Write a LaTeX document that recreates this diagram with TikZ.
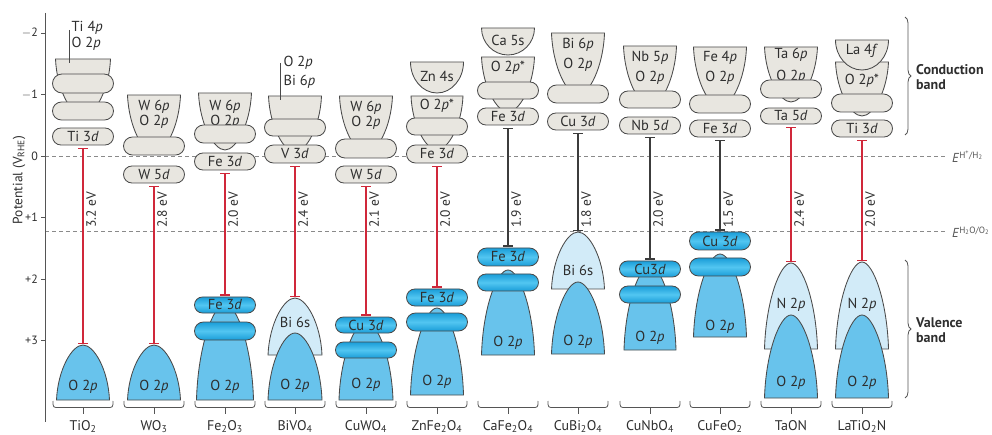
\documentclass[tikz,border=0pt]{standalone}
\usepackage{fontspec}
\setmainfont{PT Sans}
\usetikzlibrary{shapes.misc,arrows.meta,decorations.pathreplacing}
\definecolor{cbfill}{HTML}{E8E6E0}
\definecolor{edge}{HTML}{4A4A4A}
\definecolor{otwo}{HTML}{68C3EC}
\definecolor{lightb}{HTML}{D2EBF8}
\definecolor{deepb}{HTML}{1A9DD8}
\definecolor{midb}{HTML}{52C6F1}
\definecolor{gapred}{HTML}{D0283A}
\definecolor{gapdark}{HTML}{3C3C3C}
\definecolor{txt}{HTML}{2E2E2E}
\definecolor{guide}{HTML}{8A8A8A}
\definecolor{soft}{HTML}{555555}
\newcommand\bandfont{\fontsize{14.5}{16}\selectfont}
\newcommand\bandbell[5]{%
 \pgfmathsetmacro\bbA{#2+0.55*(#3-#2)}%
 \pgfmathsetmacro\bbL{#1-#4}\pgfmathsetmacro\bbR{#1+#4}%
 \pgfmathsetmacro\bbLa{#1-0.95*#4}\pgfmathsetmacro\bbRa{#1+0.95*#4}%
 \pgfmathsetmacro\bbLc{#1-0.42*#4}\pgfmathsetmacro\bbRc{#1+0.42*#4}%
 \path[#5] (\bbL,#2) .. controls (\bbLa,\bbA) and (\bbLc,#3) .. (#1,#3) .. controls (\bbRc,#3) and (\bbRa,\bbA) .. (\bbR,#2) -- cycle;}
\newcommand\bandbowl[5]{%
 \pgfmathsetmacro\bbA{#2+0.55*(#3-#2)}%
 \pgfmathsetmacro\bbL{#1-#4}\pgfmathsetmacro\bbR{#1+#4}%
 \pgfmathsetmacro\bbLc{#1-0.55*#4}\pgfmathsetmacro\bbRc{#1+0.55*#4}%
 \path[#5] (\bbL,#2) -- (\bbR,#2) .. controls (\bbR,\bbA) and (\bbRc,#3) .. (#1,#3) .. controls (\bbLc,#3) and (\bbL,\bbA) .. cycle;}
\newcommand\cbpill[5]{\node[cbp, minimum height={(#3)-(#2)}] (#4) at (#1,{((#2)+(#3))/2}) {#5};}
\newcommand\vbpill[5]{\node[vbp, minimum height={(#3)-(#2)}] (#4) at (#1,{((#2)+(#3))/2}) {#5};}
\newcommand\gaplabel[3]{\node[gaplab] (#3) at ({#1+3},228) {#2};}
\newcommand\colbrace[4]{%
 \draw[brc] ({#1-30},401) .. controls ({#1-30},407.5) .. ({#1-24},407.5) -- ({#1+24},407.5) .. controls ({#1+30},407.5) .. ({#1+30},401);
 \coordinate (#2t) at (#1,407.5); \coordinate (#2b) at (#1,414);
 \draw[brc] (#2t) -- (#2b);
 \node[matlab] (#3) at (#1,430) {#4};}
\tikzset{
 cbshape/.style={fill=cbfill, draw=edge, line width=0.85pt},
 vbshape/.style={fill=otwo, draw=edge, line width=0.85pt},
 lbshape/.style={fill=lightb, draw=edge, line width=0.85pt},
 cbp/.style={rounded rectangle, fill=cbfill, draw=edge, line width=0.85pt, minimum width=61pt, inner sep=0pt, font=\bandfont, text=txt},
 vbp/.style={rounded rectangle, draw=edge, line width=0.85pt, top color=deepb, bottom color=deepb, middle color=midb, minimum width=61pt, inner sep=0pt, font=\bandfont, text=txt},
 lab/.style={font=\bandfont, text=txt, inner sep=0pt},
 leader/.style={draw=edge, line width=0.8pt},
 gapr/.style={draw=gapred, line width=1.4pt, arrows={Bar[width=10pt]-Bar[width=10pt]}, shorten <=2.5pt, shorten >=1pt},
 gapd/.style={draw=gapdark, line width=1.4pt, arrows={Bar[width=10pt]-Bar[width=10pt]}, shorten <=2.5pt, shorten >=1pt},
 gaplab/.style={rotate=90, anchor=north west, inner sep=0pt, font=\fontsize{13.5}{15}\selectfont, text=txt},
 brc/.style={draw=soft, line width=0.8pt},
 matlab/.style={anchor=base, inner sep=0pt, font=\fontsize{14}{16}\selectfont, text=txt},
 guideline/.style={draw=guide, line width=0.9pt, dash pattern=on 4pt off 3pt},
 ticklab/.style={anchor=east, inner sep=0pt, font=\fontsize{12}{14}\selectfont, text=txt},
 elab/.style={anchor=west, inner sep=0pt, font=\fontsize{13}{15}\selectfont, text=soft},
 bandtitle/.style={anchor=west, align=left, inner sep=0pt, font=\fontsize{14}{14.5}\selectfont\bfseries, text=txt}
}
\begin{document}
\begin{tikzpicture}[x=1pt,y=-1pt]
\useasboundingbox (0,0) rectangle (992,435);
% reference potentials
\coordinate (hl) at (45,156); \coordinate (hr) at (946,156);
\coordinate (ol) at (45,231.6); \coordinate (or) at (946,231.6);
\draw[guideline] (hl) -- (hr);
\draw[guideline] (ol) -- (or);
\node[elab] (eh) at (952,157) {\textit{E}\textsuperscript{H\textsuperscript{+}/H\textsubscript{2}}};
\node[elab] (eo) at (952,232.5) {\textit{E}\textsuperscript{H\textsubscript{2}O/O\textsubscript{2}}};
% axis
\coordinate (at) at (45,13); \coordinate (ab) at (45,422);
\draw[draw=soft, line width=0.9pt] (at) -- (ab);
\foreach \v/\t [count=\i] in {-2/$-$2,-1/$-$1,0/0,1/+1,2/+2,3/+3}{
  \pgfmathsetmacro\yy{156+61.5*\v}
  \coordinate (tk\i a) at (41,\yy); \coordinate (tk\i b) at (45,\yy);
  \draw[draw=soft, line width=0.8pt] (tk\i a) -- (tk\i b);
  \node[ticklab] (tl\i) at (38,\yy) {\t};
}
\node[rotate=90, inner sep=0pt, font=\fontsize{13.5}{15}\selectfont, text=txt] (ylab) at (19,180) {Potential (V\textsubscript{RHE})};

% ---------- TiO2
\bandbell{83}{59}{116}{27.5}{cbshape}
\cbpill{83}{74}{93}{tio2a}{}
\cbpill{83}{102}{120}{tio2b}{}
\cbpill{83}{128}{145}{tio2cb}{Ti 3\textit{d}}
\coordinate (tio2la) at (69,30); \coordinate (tio2lb) at (69,63);
\draw[leader] (tio2la) -- (tio2lb);
\node[lab, anchor=west] (tio2t1) at (71.5,28) {Ti 4\textit{p}};
\node[lab, anchor=west] (tio2t2) at (71.5,43.5) {O 2\textit{p}};
\bandbell{83}{400}{345}{26.5}{vbshape}
\coordinate (tio2vb) at (83,345);
\node[lab] (tio2o) at (83,387) {O 2\textit{p}};
\draw[gapr] (tio2cb.south) -- (tio2vb);
\gaplabel{83}{3.2 eV}{tio2g}
\colbrace{83}{tio2br}{tio2n}{TiO\textsubscript{2}}

% ---------- WO3
\bandbell{154}{95}{153}{26.5}{cbshape}
\node[lab] (wo3t1) at (154,107) {W 6\textit{p}};
\node[lab] (wo3t2) at (154,122) {O 2\textit{p}};
\cbpill{154}{137}{155}{wo3a}{}
\cbpill{154}{166}{183}{wo3cb}{W 5\textit{d}}
\bandbell{154}{400}{345}{26.5}{vbshape}
\coordinate (wo3vb) at (154,345);
\node[lab] (wo3o) at (154,387) {O 2\textit{p}};
\draw[gapr] (wo3cb.south) -- (wo3vb);
\gaplabel{154}{2.8 eV}{wo3g}
\colbrace{154}{wo3br}{wo3n}{WO\textsubscript{3}}

% ---------- Fe2O3
\bandbell{225}{93}{150}{26.5}{cbshape}
\node[lab] (fe2o3t1) at (225,107) {W 6\textit{p}};
\node[lab] (fe2o3t2) at (225,122) {O 2\textit{p}};
\cbpill{225}{125}{143}{fe2o3a}{}
\cbpill{225}{153}{170}{fe2o3cb}{Fe 3\textit{d}}
\bandbell{225}{400}{304}{28.5}{vbshape}
\vbpill{225}{322}{340}{fe2o3b}{}
\vbpill{225}{297}{313}{fe2o3vb}{Fe 3\textit{d}}
\node[lab] (fe2o3o) at (225,387) {O 2\textit{p}};
\draw[gapr] (fe2o3cb.south) -- (fe2o3vb.north);
\gaplabel{225}{2.0 eV}{fe2o3g}
\colbrace{225}{fe2o3br}{fe2o3n}{Fe\textsubscript{2}O\textsubscript{3}}

% ---------- BiVO4
\bandbell{295}{96}{152}{26.5}{cbshape}
\cbpill{295}{119}{136}{bivo4a}{}
\cbpill{295}{145}{163}{bivo4cb}{V 3\textit{d}}
\coordinate (bivo4la) at (280,63); \coordinate (bivo4lb) at (280,100);
\draw[leader] (bivo4la) -- (bivo4lb);
\node[lab, anchor=west] (bivo4t1) at (283.5,63) {O 2\textit{p}};
\node[lab, anchor=west] (bivo4t2) at (283.5,82) {Bi 6\textit{p}};
\bandbell{295}{355}{298}{27}{lbshape}
\bandbell{295}{400}{333}{27}{vbshape}
\coordinate (bivo4vb) at (295,298);
\node[lab] (bivo4s) at (295,322) {Bi 6s};
\node[lab] (bivo4o) at (295,386) {O 2\textit{p}};
\draw[gapr] (bivo4cb.south) -- (bivo4vb);
\gaplabel{295}{2.4 eV}{bivo4g}
\colbrace{295}{bivo4br}{bivo4n}{BiVO\textsubscript{4}}

% ---------- CuWO4
\bandbell{366}{96}{153}{26.5}{cbshape}
\node[lab] (cuwo4t1) at (366,108) {W 6\textit{p}};
\node[lab] (cuwo4t2) at (366,123) {O 2\textit{p}};
\cbpill{366}{139}{158}{cuwo4a}{}
\cbpill{366}{166}{183}{cuwo4cb}{W 5\textit{d}}
\bandbell{366}{400}{322}{27}{vbshape}
\vbpill{366}{342}{358}{cuwo4b}{}
\vbpill{366}{317}{333}{cuwo4vb}{Cu 3\textit{d}}
\node[lab] (cuwo4o) at (366,385) {O 2\textit{p}};
\draw[gapr] (cuwo4cb.south) -- (cuwo4vb.north);
\gaplabel{366}{2.1 eV}{cuwo4g}
\colbrace{366}{cuwo4br}{cuwo4n}{CuWO\textsubscript{4}}

% ---------- ZnFe2O4
\bandbell{437}{96}{150}{26}{cbshape}
\bandbowl{437}{62}{93}{26.5}{cbshape}
\node[lab] (znt1) at (437,76) {Zn 4s};
\node[lab] (znt2) at (437,106) {O 2\textit{p}*};
\cbpill{437}{118}{135}{zna}{}
\cbpill{437}{145}{163}{zncb}{Fe 3\textit{d}}
\bandbell{437}{395}{308}{26.5}{vbshape}
\vbpill{437}{313}{331}{znb}{}
\vbpill{437}{289}{306}{znvb}{Fe 3\textit{d}}
\node[lab] (zno) at (437,382) {O 2\textit{p}};
\draw[gapr] (zncb.south) -- (znvb.north);
\gaplabel{437}{2.0 eV}{zng}
\colbrace{437}{znbr}{znn}{ZnFe\textsubscript{2}O\textsubscript{4}}

% ---------- CaFe2O4
\bandbell{508}{57}{112}{26.5}{cbshape}
\bandbowl{508}{28}{55}{26.5}{cbshape}
\node[lab] (cat1) at (508,40) {Ca 5s};
\node[lab] (cat2) at (508,68) {O 2\textit{p}*};
\cbpill{508}{82}{99}{caa}{}
\cbpill{508}{108}{125}{cacb}{Fe 3\textit{d}}
\bandbell{508}{355}{270}{26.5}{vbshape}
\vbpill{508}{274}{291}{cab}{}
\vbpill{508}{248}{266}{cavb}{Fe 3\textit{d}}
\node[lab] (cao) at (508,343) {O 2\textit{p}};
\draw[gapd] (cacb.south) -- (cavb.north);
\gaplabel{508}{1.9 eV}{cag}
\colbrace{508}{cabr}{can}{CaFe\textsubscript{2}O\textsubscript{4}}

% ---------- CuBi2O4
\bandbell{578}{33}{95}{26.5}{cbshape}
\node[lab] (cubit1) at (578,45) {Bi 6\textit{p}};
\node[lab] (cubit2) at (578,65) {O 2\textit{p}};
\cbpill{578}{85}{103}{cubia}{}
\cbpill{578}{113}{130}{cubicb}{Cu 3\textit{d}}
\bandbell{578}{289}{232}{26.5}{lbshape}
\bandbell{578}{354}{282}{26.5}{vbshape}
\coordinate (cubivb) at (578,232);
\node[lab] (cubis) at (578,270) {Bi 6s};
\node[lab] (cubio) at (578,342) {O 2\textit{p}};
\draw[gapd] (cubicb.south) -- (cubivb);
\gaplabel{578}{1.8 eV}{cubig}
\colbrace{578}{cubibr}{cubin}{CuBi\textsubscript{2}O\textsubscript{4}}

% ---------- CuNbO4
\bandbell{650}{46}{106}{26.5}{cbshape}
\node[lab] (cunbt1) at (650,58) {Nb 5\textit{p}};
\node[lab] (cunbt2) at (650,78) {O 2\textit{p}};
\cbpill{650}{91}{108}{cunba}{}
\cbpill{650}{117}{134}{cunbcb}{Nb 5\textit{d}}
\bandbell{650}{350}{266}{26}{vbshape}
\vbpill{650}{286}{303}{cunbb}{}
\vbpill{650}{261}{277}{cunbvb}{Cu3\textit{d}}
\node[lab] (cunbo) at (650,338) {O 2\textit{p}};
\draw[gapd] (cunbcb.south) -- (cunbvb.north);
\gaplabel{650}{2.0 eV}{cunbg}
\colbrace{650}{cunbbr}{cunbn}{CuNbO\textsubscript{4}}

% ---------- CuFeO2
\bandbell{720}{47}{107}{26.5}{cbshape}
\node[lab] (cufet1) at (720,58) {Fe 4\textit{p}};
\node[lab] (cufet2) at (720,78) {O 2\textit{p}};
\cbpill{720}{95}{113}{cufea}{}
\cbpill{720}{120}{137}{cufecb}{Fe 3\textit{d}}
\bandbell{720}{337}{254}{26.5}{vbshape}
\vbpill{720}{258}{276}{cufeb}{}
\vbpill{720}{232}{250}{cufevb}{Cu 3\textit{d}}
\node[lab] (cufeo) at (720,327) {O 2\textit{p}};
\draw[gapd] (cufecb.south) -- (cufevb.north);
\gaplabel{720}{1.5 eV}{cufeg}
\colbrace{720}{cufebr}{cufen}{CuFeO\textsubscript{2}}

% ---------- TaON
\bandbell{791}{47}{102}{26.5}{cbshape}
\node[lab] (taont1) at (791,55) {Ta 6\textit{p}};
\node[lab] (taont2) at (791,77) {O 2\textit{p}};
\cbpill{791}{80}{98}{taona}{}
\cbpill{791}{108}{124}{taoncb}{Ta 5\textit{d}}
\bandbell{791}{349}{263}{26.5}{lbshape}
\bandbell{791}{398}{315}{26.5}{vbshape}
\coordinate (taonvb) at (791,263);
\node[lab] (taonn) at (791,305) {N 2\textit{p}};
\node[lab] (taono) at (791,383) {O 2\textit{p}};
\draw[gapr] (taoncb.south) -- (taonvb);
\gaplabel{791}{2.4 eV}{taong}
\colbrace{791}{taonbr}{taonn2}{TaON}

% ---------- LaTiO2N
\bandbell{862}{62}{116}{26.5}{cbshape}
\bandbowl{862}{40}{70}{26.5}{cbshape}
\node[lab] (lat1) at (862,51) {La 4\textit{f}};
\node[lab] (lat2) at (862,81) {O 2\textit{p}*};
\cbpill{862}{94}{112}{laa}{}
\cbpill{862}{120}{137}{lacb}{Ti 3\textit{d}}
\bandbell{862}{349}{262}{26.5}{lbshape}
\bandbell{862}{398}{315}{26.5}{vbshape}
\coordinate (lavb) at (862,262);
\node[lab] (lan) at (862,305) {N 2\textit{p}};
\node[lab] (lao) at (862,383) {O 2\textit{p}};
\draw[gapr] (lacb.south) -- (lavb);
\gaplabel{862}{2.0 eV}{lag}
\colbrace{862}{labr}{lan2}{LaTiO\textsubscript{2}N}

% ---------- side braces
\coordinate (cbt) at (905,17); \coordinate (cbb) at (905,135);
\draw[brc, decorate, decoration={brace, amplitude=6pt}] (cbt) -- (cbb);
\node[bandtitle] (cbtitle) at (916,77) {Conduction\\band};
\coordinate (vbt) at (905,260); \coordinate (vbb) at (905,398);
\draw[brc, decorate, decoration={brace, amplitude=6pt}] (vbt) -- (vbb);
\node[bandtitle] (vbtitle) at (916,330) {Valence\\band};
\end{tikzpicture}
\end{document}
